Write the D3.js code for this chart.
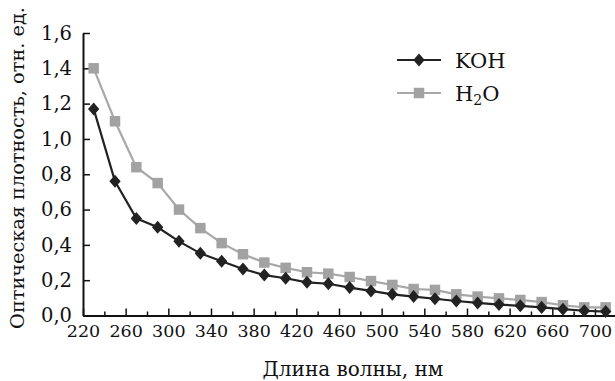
<!DOCTYPE html>
<html>
<head>
<meta charset="utf-8">
<script src="https://cdn.jsdelivr.net/npm/d3@7"></script>
<style>
  body { margin: 0; background: #fff; }
  svg { display: block; }
  text { font-family: 'DejaVu Serif', serif; fill: #111; }
</style>
</head>
<body>
<svg id="chart"></svg>
<script>
// wavelengths, nm
const wavelengths = [230, 250, 270, 290, 310, 330, 350, 370, 390, 410, 430, 450, 470,
  490, 510, 530, 550, 570, 590, 610, 630, 650, 670, 690, 710]
// optical density, arb. units
const koh = [1.17, 0.76, 0.55, 0.50, 0.42, 0.352, 0.307, 0.263, 0.229, 0.211, 0.188, 0.18, 0.158,
  0.139, 0.12, 0.107, 0.095, 0.082, 0.071, 0.062, 0.055, 0.046, 0.036, 0.027, 0.022]
const h2o = [1.40, 1.10, 0.84, 0.75, 0.60, 0.495, 0.41, 0.347, 0.30, 0.27, 0.245, 0.237, 0.218,
  0.195, 0.173, 0.15, 0.145, 0.12, 0.107, 0.097, 0.088, 0.076, 0.058, 0.046, 0.046]
const xTicks = d3.range(220, 721, 20)
const yTicks = [0, 0.2, 0.4, 0.6, 0.8, 1.0, 1.2, 1.4, 1.6]
const seriesNames = ['KOH', 'H2O']

const W = 615
const H = 381
const margin = { top: 33, right: 0, bottom: 65.5, left: 83 }
const width = W - margin.left - margin.right
const height = H - margin.top - margin.bottom
const FONT = "'DejaVu Serif', serif"

const svg = d3.select('#chart').attr('width', W).attr('height', H)
const g = svg.append('g').attr('transform', `translate(${margin.left},${margin.top})`)

const x = d3.scaleLinear().domain([220, 720]).range([0, 533.3])
const y = d3.scaleLinear().domain([0, 1.6]).range([height, 0])

const fmt = (d) => d3.format('.1f')(d).replace('.', ',')

// x axis, ticks point inside, long ones every 40 nm
const xAxis = g
  .append('g')
  .attr('transform', `translate(0,${height})`)
  .call(
    d3
      .axisBottom(x)
      .tickValues(xTicks)
      .tickSizeInner(-7)
      .tickSizeOuter(0)
      .tickPadding(9)
      .tickFormat((d) => ((d - 220) % 40 === 0 && d <= 700 ? d : ''))
  )
  .attr('font-family', FONT)
xAxis.select('.domain').attr('stroke', '#111').attr('stroke-width', 2)
xAxis.selectAll('.tick line').attr('stroke', '#111').attr('stroke-width', 1.5)
  .attr('y2', (d) => ((d - 220) % 40 === 0 ? -7 : -4))
xAxis.selectAll('.tick text').style('font-size', '17.5px').attr('fill', '#111')
  .style('font-family', FONT)

// y axis
const yAxis = g
  .append('g')
  .call(d3.axisLeft(y).tickValues(yTicks).tickSizeInner(-7).tickSizeOuter(0).tickPadding(11).tickFormat(fmt))
  .attr('font-family', FONT)
yAxis.select('.domain').attr('stroke', '#111').attr('stroke-width', 2)
yAxis.selectAll('.tick line').attr('stroke', '#111').attr('stroke-width', 1.5)
yAxis.selectAll('.tick text').style('font-size', '19.5px').attr('fill', '#111')
  .style('font-family', FONT)

// axis titles
svg
  .append('text')
  .attr('x', 353)
  .attr('y', 376)
  .attr('text-anchor', 'middle')
  .style('font-size', '20px')
  .style('font-family', FONT)
  .text('Длина волны, нм')

svg
  .append('text')
  .attr('transform', `translate(24,${168}) rotate(-90)`)
  .attr('text-anchor', 'middle')
  .style('font-size', '19.3px')
  .style('font-family', FONT)
  .text('Оптическая плотность, отн. ед.')

const line = d3
  .line()
  .x((d, i) => x(wavelengths[i]))
  .y((d) => y(d))

const diamond = d3.symbol().type(d3.symbolSquare).size(64)
const square = d3.symbol().type(d3.symbolSquare).size(110)

// H2O series
g.append('path').datum(h2o).attr('fill', 'none').attr('stroke', '#a8a8a8').attr('stroke-width', 2.2).attr('d', line)
g.selectAll('.sq')
  .data(h2o)
  .join('path')
  .attr('class', 'sq')
  .attr('transform', (d, i) => `translate(${x(wavelengths[i])},${y(d)})`)
  .attr('d', square)
  .attr('fill', '#a2a2a2')

// KOH series
g.append('path').datum(koh).attr('fill', 'none').attr('stroke', '#222').attr('stroke-width', 2.2).attr('d', line)
g.selectAll('.dm')
  .data(koh)
  .join('path')
  .attr('class', 'dm')
  .attr('transform', (d, i) => `translate(${x(wavelengths[i])},${y(d)}) scale(1,1.15) rotate(45)`)
  .attr('d', diamond)
  .attr('fill', '#222')

// legend
const legend = svg.append('g').attr('transform', 'translate(397,60)')
const rows = [
  { name: seriesNames[0], color: '#222', shape: 'diamond' },
  { name: seriesNames[1], color: '#a8a8a8', shape: 'square' }
]
rows.forEach((r, i) => {
  const row = legend.append('g').attr('transform', `translate(0,${i * 33})`)
  row.append('line').attr('x1', 0).attr('x2', 44).attr('stroke', r.color).attr('stroke-width', 2.2)
  if (r.shape === 'diamond') {
    row.append('path').attr('d', diamond).attr('transform', 'translate(22,0) scale(1,1.15) rotate(45)').attr('fill', r.color)
  } else {
    row.append('path').attr('d', square).attr('transform', 'translate(22,0)').attr('fill', '#a2a2a2')
  }
  const t = row.append('text').attr('x', 58).attr('y', 8).style('font-size', '21px').style('font-family', FONT)
  if (r.name === 'H2O') {
    t.append('tspan').text('H')
    t.append('tspan').text('2').style('font-size', '14px').attr('dy', 4)
    t.append('tspan').text('O').attr('dy', -4)
  } else {
    t.text(r.name)
  }
})
</script>
</body>
</html>
